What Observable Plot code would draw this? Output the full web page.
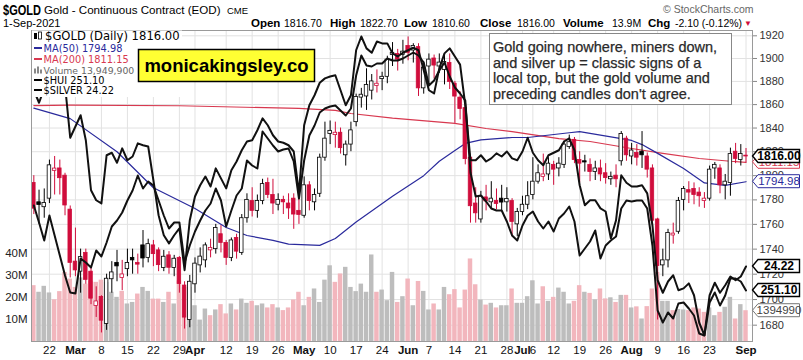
<!DOCTYPE html>
<html><head><meta charset="utf-8">
<script src="https://cdn.jsdelivr.net/npm/d3@7"></script>
<script src="https://cdn.jsdelivr.net/npm/@observablehq/plot@0.6"></script>
<style>
html,body{margin:0;padding:0;background:#fff;}
#wrap{position:relative;width:803px;height:360px;overflow:hidden;}
#wrap svg{position:absolute;left:0;top:0;}
</style></head><body><div id="wrap"></div><script>
// ---------------- DATA ----------------
const dates = [
"2021-02-17","2021-02-18","2021-02-19",
"2021-02-22","2021-02-23","2021-02-24","2021-02-25","2021-02-26",
"2021-03-01","2021-03-02","2021-03-03","2021-03-04","2021-03-05",
"2021-03-08","2021-03-09","2021-03-10","2021-03-11","2021-03-12",
"2021-03-15","2021-03-16","2021-03-17","2021-03-18","2021-03-19",
"2021-03-22","2021-03-23","2021-03-24","2021-03-25","2021-03-26",
"2021-03-29","2021-03-30","2021-03-31","2021-04-01",
"2021-04-05","2021-04-06","2021-04-07","2021-04-08","2021-04-09",
"2021-04-12","2021-04-13","2021-04-14","2021-04-15","2021-04-16",
"2021-04-19","2021-04-20","2021-04-21","2021-04-22","2021-04-23",
"2021-04-26","2021-04-27","2021-04-28","2021-04-29","2021-04-30",
"2021-05-03","2021-05-04","2021-05-05","2021-05-06","2021-05-07",
"2021-05-10","2021-05-11","2021-05-12","2021-05-13","2021-05-14",
"2021-05-17","2021-05-18","2021-05-19","2021-05-20","2021-05-21",
"2021-05-24","2021-05-25","2021-05-26","2021-05-27","2021-05-28",
"2021-06-01","2021-06-02","2021-06-03","2021-06-04",
"2021-06-07","2021-06-08","2021-06-09","2021-06-10","2021-06-11",
"2021-06-14","2021-06-15","2021-06-16","2021-06-17","2021-06-18",
"2021-06-21","2021-06-22","2021-06-23","2021-06-24","2021-06-25",
"2021-06-28","2021-06-29","2021-06-30","2021-07-01","2021-07-02",
"2021-07-06","2021-07-07","2021-07-08","2021-07-09",
"2021-07-12","2021-07-13","2021-07-14","2021-07-15","2021-07-16",
"2021-07-19","2021-07-20","2021-07-21","2021-07-22","2021-07-23",
"2021-07-26","2021-07-27","2021-07-28","2021-07-29","2021-07-30",
"2021-08-02","2021-08-03","2021-08-04","2021-08-05","2021-08-06",
"2021-08-09","2021-08-10","2021-08-11","2021-08-12","2021-08-13",
"2021-08-16","2021-08-17","2021-08-18","2021-08-19","2021-08-20",
"2021-08-23","2021-08-24","2021-08-25","2021-08-26","2021-08-27",
"2021-08-30","2021-08-31","2021-09-01"];

const prevClose = 1799.0; // close before first shown day (sets first candle colour)

const open = [1794,1778,1774,1781,1804,1806,1800,1772,1730,1722,
1737,1722,1695,1702,1681,1716,1729,1717,1724,1733,
1729,1743,1733,1743,1739,1725,1735,1725,1733,1711,
1684,1712,1727,1731,1739,1740,1752,1745,1733,1749,
1737,1765,1779,1771,1779,1794,1784,1776,1780,1777,
1781,1771,1767,1792,1778,1785,1815,1835,1834,1836,
1817,1826,1845,1866,1867,1872,1876,1882,1884,1903,
1904,1903,1911,1907,1910,1874,1893,1900,1893,1890,
1896,1878,1866,1857,1815,1777,1764,1782,1778,1779,
1781,1778,1779,1760,1770,1776,1784,1795,1799,1801,
1809,1806,1809,1824,1830,1813,1812,1809,1803,1806,
1802,1797,1800,1812,1831,1816,1819,1820,1816,1806,
1764,1727,1731,1751,1754,1780,1788,1789,1786,1779,
1781,1806,1806,1792,1794,1820,1813,1816.7];
const high = [1800,1788,1789,1813,1816,1813,1802,1775,1757,1740,
1740,1725,1710,1703,1720,1730,1739,1731,1740,1740,
1736,1755,1748,1747,1741,1739,1738,1735,1734,1714,
1719,1733,1741,1745,1748,1760,1759,1747,1749,1752,
1768,1785,1790,1784,1797,1798,1797,1785,1783,1785,
1785,1782,1799,1795,1789,1818,1845,1846,1845,1840,
1829,1845,1869,1874,1891,1886,1890,1888,1902,1914,
1908,1916,1919,1913,1913,1897,1904,1903,1904,1903,
1904,1880,1871,1862,1817,1790,1787,1792,1795,1789,
1792,1790,1781,1773,1783,1795,1815,1809,1818,1815,
1812,1815,1829,1834,1832,1820,1817,1814,1812,1813,
1810,1803,1809,1837,1833,1827,1826,1837,1819,1809,
1765,1740,1756,1761,1782,1791,1795,1794,1790,1786,
1808,1811,1809,1801,1823,1827,1826,1822.7];
const low = [1768,1760,1765,1777,1784,1784,1767,1717,1718,1705,
1712,1696,1686,1674,1676,1705,1714,1707,1718,1720,
1720,1725,1729,1726,1722,1722,1720,1718,1705,1677,
1678,1705,1721,1725,1733,1736,1737,1727,1730,1732,
1735,1761,1766,1765,1776,1781,1768,1771,1768,1764,
1756,1760,1765,1771,1771,1782,1812,1826,1823,1818,
1808,1820,1841,1857,1855,1864,1870,1872,1878,1893,
1889,1895,1898,1896,1867,1869,1877,1882,1887,1877,
1873,1844,1847,1809,1761,1761,1761,1771,1772,1772,
1771,1770,1750,1750,1767,1772,1780,1793,1795,1796,
1792,1799,1806,1822,1810,1794,1803,1795,1796,1795,
1793,1792,1790,1808,1812,1809,1808,1806,1798,1759,
1684,1718,1725,1744,1752,1771,1777,1776,1774,1773,
1779,1797,1785,1780,1783,1810,1808,1810.6];
const close = [1772.8,1775.8,1777.4,1808.6,1805.9,1797.9,1775.4,1729,1723,1733.6,
1715.5,1700.7,1698.5,1683.5,1716.4,1721.4,1726.2,1719.8,1728.9,1731,
1727.6,1732.5,1744,1736,1727.2,1733.9,1725.1,1732.3,1712.2,1685.9,
1714,1728.4,1734,1743,1741,1757,1745,1733,1747,1738,
1765,1780,1771,1779,1793,1784,1777,1780,1778,1773,
1768,1767.7,1792,1779,1784,1815,1831,1837.6,1836,1823,
1826,1838,1866.6,1868.5,1877,1880,1878,1884,1899,1905,
1899,1906,1905,1911,1874,1892,1899,1893.8,1896.4,1897,
1879.6,1866.9,1856.2,1813.8,1774.8,1769,1782.8,1778.8,1781,1776.6,
1777.8,1780.7,1762,1770,1776,1783,1795,1802,1801,1810,
1805,1810,1826,1828,1813,1810,1811,1803,1806,1801,
1798,1799,1797,1835,1817,1821,1815,1817,1805,1763,
1726.5,1731,1753,1752.5,1779,1789,1786,1784,1783,1781,
1805,1809,1792,1795,1818,1814,1818.1,1816.0];
// volume, millions of contracts
const volumeM = [25.3,22.3,25.0,22.0,18.9,22.6,31.3,28.3,24.5,28.8,
26.0,27.2,26.8,27.8,26.8,22.3,20.0,22.7,17.0,17.7,
21.5,24.5,22.7,19.2,19.2,17.7,22.3,17.0,27.5,24.5,
24.5,16.2,9.7,14.7,11.7,14.3,16.7,12.5,17.0,14.3,
19.2,17.3,18.2,16.2,17.0,15.2,16.7,15.2,14.0,15.2,
18.8,22.3,16.2,20.0,23.8,17.7,27.8,34.3,26.8,30.6,
33.6,24.5,22.6,26.0,22.3,39.2,22.3,23.3,18.5,31.3,
17.7,20.3,28.3,16.2,27.2,22.7,14.3,17.0,14.3,24.5,
21.2,23.5,15.2,23.3,37.4,25.7,18.8,16.5,17.3,15.2,
16.2,16.2,23.8,17.3,17.3,20.3,27.5,17.0,24.8,18.2,
20.0,24.2,22.3,17.0,18.2,25.3,22.3,21.8,18.9,23.8,
19.3,19.8,17.7,20.9,20.9,15.2,15.7,10.2,15.8,23.8,
31.3,18.2,18.2,14.0,14.5,14.3,14.0,15.2,14.7,13.2,
15.2,11.7,13.2,15.5,20.0,10.2,16.7,13.95];
const silver = [27.04,26.84,27.07,27.32,27.28,27.20,27.12,26.28,26.46,26.64,
26.24,25.44,25.28,25.23,26.00,26.04,25.88,26.11,25.92,25.98,
26.19,26.16,26.14,25.60,25.04,24.72,24.59,24.72,24.83,24.16,
24.96,25.34,25.52,25.66,25.50,25.79,25.63,25.47,25.76,25.90,
26.08,26.22,26.24,26.40,26.59,26.48,26.32,26.22,26.20,26.16,
26.06,25.39,26.48,26.80,26.96,27.16,27.23,27.26,27.28,27.04,
26.80,26.96,27.68,27.90,27.71,27.64,27.82,27.79,27.79,27.63,
27.58,27.64,27.68,27.72,27.68,27.36,27.04,26.99,27.39,27.63,
27.71,27.58,27.45,26.80,25.92,25.92,26.00,25.90,25.95,26.03,
25.98,26.06,25.95,25.92,26.06,26.28,26.04,25.92,25.84,26.00,
26.04,26.08,26.22,26.27,26.08,25.52,25.20,25.28,25.28,25.15,
25.10,24.67,24.96,25.68,25.56,25.50,25.50,25.52,25.39,24.88,
24.00,23.80,23.98,24.08,23.84,23.87,23.95,23.76,23.32,23.12,
23.76,23.96,23.80,23.92,24.06,24.00,24.06,24.22];
const hui = [276.6,271.5,266.1,273.6,267.6,261.6,255.6,250.5,250.2,260.7,
259.5,258.0,263.1,261.3,265.5,270.3,272.1,274.5,278.1,281.1,
285.6,281.7,283.8,282.6,278.1,273.6,269.7,271.5,271.5,259.5,
264.6,268.8,272.1,275.1,277.2,281.7,278.1,270.3,275.1,279.6,
281.7,290.1,288.6,287.7,298.8,296.7,294.6,292.8,293.4,293.7,
289.8,278.7,290.1,297.6,300.6,304.5,305.7,306.3,306.6,305.1,
303.6,305.7,315.6,321.6,318.6,318.3,319.2,319.2,320.7,320.1,
320.1,320.7,321.6,322.5,321.6,319.5,312.6,314.1,317.1,319.5,
315.3,312.0,310.2,308.1,286.5,279.3,279.6,277.8,275.7,275.1,
275.1,271.8,267.6,266.1,270.6,273.6,274.8,271.8,269.7,271.8,
268.8,272.7,274.2,276.3,271.8,261.6,263.7,265.8,269.1,260.7,
264.6,266.1,267.3,275.7,278.1,277.8,278.1,278.1,275.7,264.6,
245.1,241.5,244.5,242.7,247.2,247.5,245.7,243.6,238.2,237.6,
247.5,250.5,246.6,249.6,254.7,254.7,253.8,251.1];
// moving averages
const ma50Dates = ["2021-02-17","2021-02-26","2021-03-11","2021-03-22","2021-04-01","2021-04-12","2021-04-16","2021-04-23","2021-04-28","2021-05-06","2021-05-11","2021-05-17","2021-05-26","2021-06-04","2021-06-09","2021-06-14","2021-06-16","2021-06-21","2021-06-29","2021-07-02","2021-07-15","2021-07-19","2021-08-02","2021-08-04","2021-08-09","2021-08-16","2021-08-20","2021-08-26","2021-09-01"];
const ma50Vals  = [1857,1848,1820,1790,1773,1757.5,1751,1747,1744,1743,1748.6,1762,1783,1800,1812,1821,1827,1830,1832,1832,1836,1837,1829.5,1826,1818.6,1806,1794,1792,1794.98];
const ma200Dates = ["2021-02-17","2021-02-26","2021-03-29","2021-04-30","2021-05-11","2021-05-14","2021-05-26","2021-06-14","2021-06-22","2021-06-29","2021-07-13","2021-07-21","2021-08-02","2021-08-10","2021-08-19","2021-08-27","2021-09-01"];
const ma200Vals  = [1859.2,1859.6,1859,1856.7,1855,1852.4,1848.5,1843.9,1839.6,1837,1831.1,1828.6,1822.7,1818.6,1814.3,1812,1811.15];
// axes
const priceTicks = [1680,1700,1720,1740,1760,1780,1800,1820,1840,1860,1880,1900,1920];
const volTicks = [10,20,30,40];
const dayTickDates  = ["2021-02-22","2021-03-08","2021-03-15","2021-03-22","2021-03-29","2021-04-12","2021-04-19","2021-04-26","2021-05-10","2021-05-17","2021-05-24","2021-06-07","2021-06-14","2021-06-21","2021-06-28","2021-07-06","2021-07-12","2021-07-19","2021-07-26","2021-08-09","2021-08-16","2021-08-23"];
const dayTickLabels = ["22","8","15","22","29","12","19","26","10","17","24","7","14","21","28","6","12","19","26","9","16","23"];
const monthTickDates  = ["2021-03-01","2021-04-01","2021-05-03","2021-06-01","2021-07-01","2021-08-02","2021-09-01"];
const monthTickLabels = ["Mar","Apr","May","Jun","Jul","Aug","Sep"];
const noteLines = ["Gold going nowhere, miners down,","and silver up = classic signs of a","local top, but the gold volume and","preceding candles don't agree."];

// ---------------- BUILD ----------------
const RED="#d00d3c", PINK="#f2b6bd", GREY="#bdbdbd", NAVY="#2a2a9c", MAR="#d8384f";
const idx = new Map(dates.map((d,i)=>[d,i]));
const bars = dates.map((d,i)=>({i, o:open[i], h:high[i], l:low[i], c:close[i], v:volumeM[i],
  up: close[i] >= (i ? close[i-1] : prevClose)}));
const ma50 = ma50Dates.map((d,k)=>({i:idx.get(d), v:ma50Vals[k]}));
const ma200 = ma200Dates.map((d,k)=>({i:idx.get(d), v:ma200Vals[k]}));
const silverData = silver.map((v,i)=>({i,v}));
const huiData = hui.map((v,i)=>({i,v}));
const dayIdx = dayTickDates.map(d=>idx.get(d));
const dayLab = new Map(dayIdx.map((k,j)=>[k,dayTickLabels[j]]));
const monIdx = monthTickDates.map(d=>idx.get(d));
const monLab = new Map(monIdx.map((k,j)=>[k,monthTickLabels[j]]));
const gridIdx = [...dayIdx, ...monIdx];

const FONT="'Liberation Sans', Arial, sans-serif";
const common = {width:803,height:360,marginTop:30,marginRight:51,marginBottom:19,marginLeft:31,
  x:{domain:[-0.45,138.25],axis:null},
  style:{background:"transparent",fontFamily:FONT,fontSize:"11px",color:"#222",overflow:"visible"}};
const priceY = {type:"log",domain:[1667.4,1924.7],axis:null};

const wrap = document.getElementById("wrap");
function add(svg){ wrap.appendChild(svg); return svg; }

// base: background, grid, axes
const baseSvg = add(Plot.plot({...common, y:priceY, marks:[
  Plot.frame({fill:"#fff"}),
  Plot.gridY(priceTicks,{stroke:"#e2e2e2",strokeOpacity:1}),
  Plot.gridX(gridIdx,{stroke:"#e2e2e2",strokeOpacity:1}),
  Plot.axisY(priceTicks,{anchor:"right",tickSize:4,tickPadding:3,fontSize:11,label:null,tickFormat:d=>d.toFixed(0),stroke:"#888",fill:"#333"}),
  Plot.axisX(dayIdx,{anchor:"bottom",tickSize:0,tickPadding:4,fontSize:11.5,label:null,tickFormat:k=>dayLab.get(k),fill:"#111"}),
  Plot.axisX(monIdx,{anchor:"bottom",tickSize:0,tickPadding:4,fontSize:11.5,fontWeight:"bold",label:null,tickFormat:k=>monLab.get(k),fill:"#111"})
]}));

// volume
const volSvg = add(Plot.plot({...common, y:{domain:[0,140.9],axis:null}, marks:[
  Plot.rect(bars,{x1:d=>d.i-0.43,x2:d=>d.i+0.43,y1:0,y2:"v",fill:d=>d.up?GREY:PINK}),
  Plot.axisY(volTicks,{anchor:"left",tickSize:0,tickPadding:4,fontSize:11.5,label:null,tickFormat:d=>d+"M",fill:"#222"})
]}));

// price: MAs + candles
const priceSvg = add(Plot.plot({...common, y:priceY, marks:[
  Plot.line(ma200,{x:"i",y:"v",stroke:MAR,strokeWidth:1.2,clip:true}),
  Plot.line(ma50,{x:"i",y:"v",stroke:NAVY,strokeWidth:1.2,clip:true}),
  Plot.ruleX(bars,{x:"i",y1:"l",y2:"h",stroke:d=>d.up?"#000":RED,strokeWidth:1,clip:true}),
  Plot.rect(bars,{x1:d=>d.i-0.34,x2:d=>d.i+0.34,y1:d=>Math.min(d.o,d.c),y2:d=>Math.max(d.o,d.c),
    fill:d=>d.c>d.o?"#fff":(d.up?"#000":RED),stroke:d=>d.up?"#000":RED,strokeWidth:0.8,clip:true})
]}));

// overlays
const silverSvg = add(Plot.plot({...common, y:{domain:[23.02,27.996],axis:null}, marks:[
  Plot.line(silverData,{x:"i",y:"v",stroke:"#111",strokeWidth:2,clip:true})]}));
const huiSvg = add(Plot.plot({...common, y:{domain:[235.8,329.1],axis:null}, marks:[
  Plot.line(huiData,{x:"i",y:"v",stroke:"#111",strokeWidth:2,clip:true})]}));

// frame on top
add(Plot.plot({...common, y:priceY, marks:[Plot.frame({stroke:"#9a9a9a"})]}));

// annotation layer
const ov = d3.select(wrap).append("svg").attr("width",803).attr("height",360);
function T(x,y,s,o={}){ return ov.append("text").attr("x",x).attr("y",y).text(s)
  .attr("font-family",o.family||FONT).attr("font-size",o.size||11).attr("font-weight",o.weight||"normal")
  .attr("fill",o.fill||"#000").attr("text-anchor",o.anchor||"start"); }

// header
T(3,15,"$GOLD",{size:15,weight:"bold"}).attr("textLength",38).attr("lengthAdjust","spacingAndGlyphs");
T(44,14,"Gold - Continuous Contract (EOD)",{size:11.6});
T(227,14,"CME",{size:9.5});
T(663,13,"© StockCharts.com",{size:10.5,fill:"#666"});
T(3,27,"1-Sep-2021",{size:11});
const hdr=[[251,"Open",1],[284,"1816.70",0],[330,"High",1],[360,"1822.70",0],[404,"Low",1],[432,"1810.60",0],
 [480,"Close",1],[517,"1816.00",0],[563,"Volume",1],[612,"13.9M",0],[648,"Chg",1],[675,"-2.10 (-0.12%)",0]];
hdr.forEach(([x,s,b])=>T(x,27,s,{size:b?11.5:10.5,weight:b?"bold":"normal"}));
T(744,26,"▼",{size:8,fill:RED});

// legend box
ov.append("rect").attr("x",32).attr("y",30.5).attr("width",150).attr("height",66.5).attr("fill","#fff");
const LF="'DejaVu Sans', Verdana, sans-serif";
// gold icon
ov.append("rect").attr("x",34).attr("y",33).attr("width",3).attr("height",6).attr("fill","#000");
ov.append("rect").attr("x",38.5).attr("y",32).attr("width",3).attr("height",7).attr("fill","#fff").attr("stroke","#000").attr("stroke-width",0.8);
T(45,40,"$GOLD (Daily) 1816.00",{size:11.6,family:LF});
const legRows=[[51.5,"MA(50) 1794.98",NAVY],[62.5,"MA(200) 1811.15",MAR],[73.5,"Volume 13,949,900","#666"],[83.5,"$HUI 251.10","#000"],[93.5,"$SILVER 24.22","#000"]];
legRows.forEach(([y,s,c],k)=>{
  if(k===2){ [0,3,6].forEach((dx,j)=>ov.append("rect").attr("x",34+dx).attr("y",y-[5,7,4][j]).attr("width",2).attr("height",[5,7,4][j]).attr("fill","#888")); }
  else ov.append("line").attr("x1",34).attr("x2",42).attr("y1",y-3.5).attr("y2",y-3.5).attr("stroke",c).attr("stroke-width",2);
  T(43.5,y,s,{size:k===2?9.3:9.8,family:LF,fill:c});
});

// yellow site box
ov.append("rect").attr("x",138.5).attr("y",49.5).attr("width",176).attr("height",32).attr("fill","#ffff33").attr("stroke","#000").attr("stroke-width",1.5);
T(226.5,72,"monicakingsley.co",{size:18.5,weight:"bold",anchor:"middle"});

// comment box
ov.append("rect").attr("x",489.5).attr("y",33.5).attr("width",242).attr("height",71).attr("fill","#fff").attr("stroke","#888").attr("stroke-width",1);
noteLines.forEach((s,k)=>T(493,52+k*15.7,s,{size:14.5,fill:"#2a2a2a"}).attr("stroke","#2a2a2a").attr("stroke-width",0.25));

// value tags on the right edge, placed through each layer's scale
function tag(y,label,col,bold,textCol){
  const g=ov.append("g");
  g.append("path").attr("d",`M752.5,${y} L758,${y-6.5} L799.5,${y-6.5} L799.5,${y+6.5} L758,${y+6.5} Z`)
    .attr("fill","#fff").attr("stroke",col).attr("stroke-width",bold?1.4:1);
  g.append("text").attr("x",779).attr("y",y+4).attr("text-anchor","middle").text(label)
    .attr("font-family",FONT).attr("font-size",bold?12:11.5).attr("font-weight",bold?"bold":"normal").attr("fill",textCol||col);
}
const py=priceSvg.scale("y"), vy=volSvg.scale("y"), sy=silverSvg.scale("y"), hy=huiSvg.scale("y");
tag(py.apply(ma200Vals[ma200Vals.length-1]), ma200Vals[ma200Vals.length-1].toFixed(2), MAR, false);
tag(py.apply(close[close.length-1]), close[close.length-1].toFixed(2), "#000", true);
tag(py.apply(ma50Vals[ma50Vals.length-1]), ma50Vals[ma50Vals.length-1].toFixed(2), NAVY, false);
tag(sy.apply(silver[silver.length-1]), silver[silver.length-1].toFixed(2), "#000", true);
tag(hy.apply(hui[hui.length-1]), hui[hui.length-1].toFixed(2), "#000", true);
tag(vy.apply(volumeM[volumeM.length-1]), "1394990", "#777", false, "#444");
</script></body></html>
